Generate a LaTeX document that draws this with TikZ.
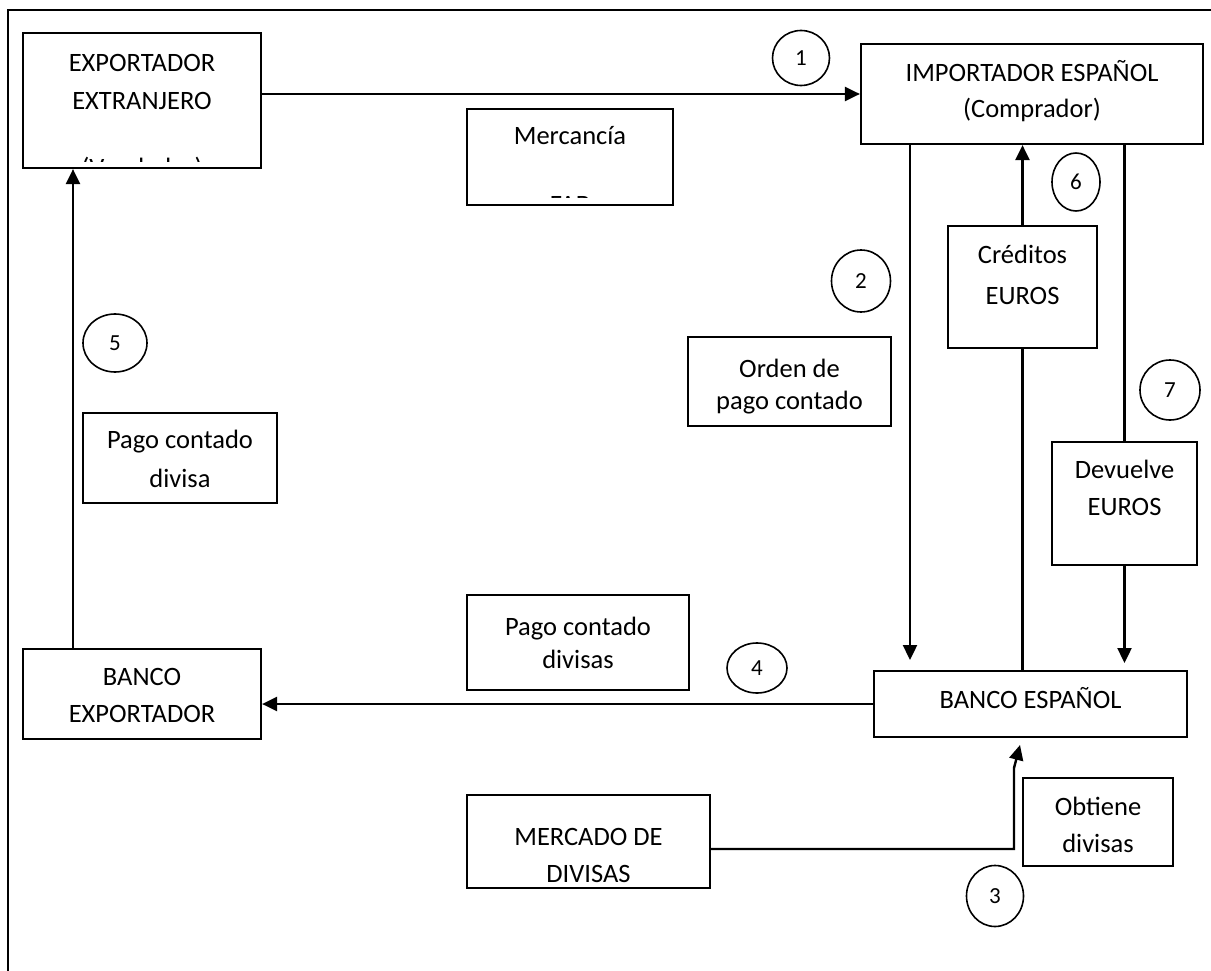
\documentclass[tikz,border=0pt]{standalone}
\usepackage{fontspec}
\setmainfont{Carlito}
\usetikzlibrary{arrows.meta,shapes.geometric}
\pgfdeclarelayer{background}
\pgfsetlayers{background,main}
\begin{document}
\begin{tikzpicture}[x=1pt,y=-1pt,
  box/.style={draw, line width=2.2pt, fill=white, inner sep=0pt},
  txt/.style={inner sep=0pt, align=center, font=\fontsize{26.5}{37}\selectfont},
  num/.style={ellipse, draw, line width=1.6pt, inner sep=0pt, font=\fontsize{23}{25}\selectfont},
  arr/.style={line width=2.4pt, -{Triangle[length=15pt,width=14pt]}},
  frame/.style={line width=2.4pt}]
\useasboundingbox (0,0) rectangle (1211,971);
\draw[frame] (8,971) -- (8,10) -- (1211,10);

% boxes
\node[box, minimum width=238pt, minimum height=135pt] (exp) at (142,100.5) {};
\node[box, minimum width=206pt, minimum height=96pt] (mer) at (570,157) {};
\node[box, minimum width=342pt, minimum height=100pt] (imp) at (1032,94) {};
\node[box, minimum width=203pt, minimum height=89pt] (ord) at (789.5,381.5) {};
\node[box, minimum width=149pt, minimum height=122pt] (cre) at (1022.5,287) {};
\node[box, minimum width=194pt, minimum height=90pt] (pcd) at (180,458) {};
\node[box, minimum width=145pt, minimum height=123pt] (dev) at (1124.5,503.5) {};
\node[box, minimum width=222pt, minimum height=95pt] (pcs) at (578,642.5) {};
\node[box, minimum width=238pt, minimum height=90pt] (bex) at (142,694) {};
\node[box, minimum width=313pt, minimum height=66pt] (bes) at (1030.5,704) {};
\node[box, minimum width=150pt, minimum height=88pt] (obt) at (1098,822) {};
\node[box, minimum width=243pt, minimum height=93pt] (mdd) at (588.5,841.5) {};

% clipped texts
\begin{scope}
\clip (exp.north west) rectangle ([yshift=8pt]exp.south east);
\node[txt, anchor=base] (expt1) at (142,72) {EXPORTADOR};
\node[txt, anchor=base] (expt2) at (142,110) {EXTRANJERO};
\node[txt, anchor=base] (expt3) at (142,177) {(Vendedor)};
\end{scope}
\begin{scope}
\clip (mer.north west) rectangle ([yshift=9pt]mer.south east);
\node[txt, anchor=base] (mert1) at (570,145) {Mercancía};
\node[txt, anchor=base] (mert2) at (570,213) {FAB};
\end{scope}

% texts
\node[txt, font=\fontsize{26.5}{36}\selectfont] (impt) at (1032,91.5) {IMPORTADOR ESPAÑOL\\(Comprador)};
\node[txt, font=\fontsize{26.5}{32}\selectfont] (ordt) at (789.5,387) {Orden de\\pago contado};
\node[txt, font=\fontsize{26.5}{41}\selectfont] (cret) at (1022.5,275) {Créditos\\EUROS};
\node[txt, font=\fontsize{26.5}{39}\selectfont] (pcdt) at (180,458.5) {Pago contado\\divisa};
\node[txt] (devt) at (1124.5,488) {Devuelve\\EUROS};
\node[txt, font=\fontsize{26.5}{33}\selectfont] (pcst) at (578,642.5) {Pago contado\\divisas};
\node[txt] (bext) at (142,695) {BANCO\\EXPORTADOR};
\node[txt] (best) at (1030.5,698) {BANCO ESPAÑOL};
\node[txt] (obtt) at (1098,824.5) {Obtiene\\divisas};
\node[txt] (mddt) at (588.5,855) {MERCADO DE\\DIVISAS};

% numbered circles
\node[num, minimum width=57pt, minimum height=55pt] (c1) at (801,58) {1};
\node[num, minimum width=59pt, minimum height=62pt] (c2) at (861,281) {2};
\node[num, minimum width=57pt, minimum height=61pt] (c3) at (995,896) {3};
\node[num, minimum width=60pt, minimum height=50pt] (c4) at (757,668) {4};
\node[num, minimum width=64pt, minimum height=58pt] (c5) at (115,343) {5};
\node[num, minimum width=48pt, minimum height=58pt] (c6) at (1076,182) {6};
\node[num, minimum width=60pt, minimum height=60pt] (c7) at (1170,390) {7};

% free ends
\coordinate (x5) at (73,0);
\coordinate (e2) at (910,660);
\coordinate (e7) at (1124.5,663);
\coordinate (k3) at (1014,768);
\coordinate (e3) at (1020,745);

\begin{pgfonlayer}{background}
\draw[arr] (exp.east |- imp.west) -- (imp.west);
\draw[arr] (imp.south -| e2) -- (e2);
\draw[arr] ([yshift=-7.5pt]mdd.east) -| (k3) -- (e3);
\draw[arr] (bes.west) -- (bex.east |- bes.west);
\draw[arr] (bex.north -| x5) -- (exp.south -| x5);
\draw[arr] (bes.north -| cre.south) -- (imp.south -| cre.south);
\draw[arr] (imp.south -| e7) -- (e7);
\end{pgfonlayer}
\end{tikzpicture}
\end{document}
